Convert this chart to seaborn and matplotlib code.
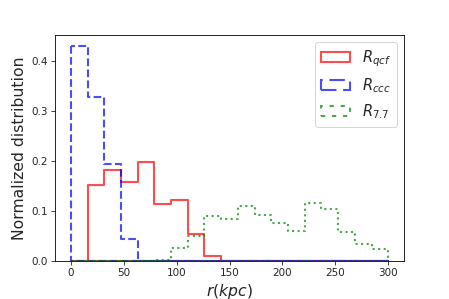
import numpy as np
import pandas as pd
import matplotlib
matplotlib.use("Agg")
import matplotlib.pyplot as plt
import seaborn as sns

# bin edges shared by all three histograms (19 bins over 0-300 kpc)
edges = np.linspace(0, 300, 20).tolist()

# normalized fraction in each bin
r_qcf = [0.0, 0.152, 0.183, 0.159, 0.199, 0.115, 0.122, 0.054, 0.011, 0.0,
         0.0, 0.0, 0.0, 0.0, 0.0, 0.0, 0.0, 0.0, 0.0]
r_ccc = [0.431, 0.329, 0.194, 0.044, 0.0, 0.0, 0.0, 0.0, 0.0, 0.0,
         0.0, 0.0, 0.0, 0.0, 0.0, 0.0, 0.0, 0.0, 0.0]
r_77 = [0.0, 0.0, 0.0, 0.0, 0.0, 0.003, 0.027, 0.050, 0.091, 0.085,
        0.111, 0.092, 0.077, 0.061, 0.117, 0.104, 0.059, 0.034, 0.024]

labels = [r"$R_{qcf}$", r"$R_{ccc}$", r"$R_{7.7}$"]
colors = [(1, 0, 0), (0, 0, 1), (0, 0.5, 0)]
styles = ["-", "--", ":"]

centers = [0.5 * (a + b) for a, b in zip(edges[:-1], edges[1:])]
df = pd.concat([
    pd.DataFrame({"r": centers, "w": vals, "sample": lab})
    for vals, lab in zip([r_qcf, r_ccc, r_77], labels)
], ignore_index=True)

sns.set_style("white")
fig, ax = plt.subplots(figsize=(449 / 75, 299 / 75), dpi=75)
fig.subplots_adjust(left=0.1225, right=0.9, top=0.883, bottom=0.127)

for lab, col, ls in zip(labels, colors, styles):
    sub = df[df["sample"] == lab]
    sns.histplot(data=sub, x="r", weights="w", bins=edges, element="step",
                 fill=True, color=col, facecolor="none",
                 edgecolor=(*col, 0.7), linestyle=ls,
                 linewidth=2, label=lab, ax=ax)

ax.set_xticks([0, 50, 100, 150, 200, 250, 300])
ax.set_yticks([0.0, 0.1, 0.2, 0.3, 0.4])
ax.tick_params(labelsize=10, length=3.5, width=0.8, direction="out",
               bottom=True, left=True)
for s in ax.spines.values():
    s.set_color("black")
    s.set_linewidth(0.8)
ax.set_xlabel(r"$r(kpc)$", fontsize=15)
ax.set_ylabel("Normalized distribution", fontsize=15)
ax.legend(loc="upper right", fontsize=14)

fig.savefig("out.png", dpi=75)
